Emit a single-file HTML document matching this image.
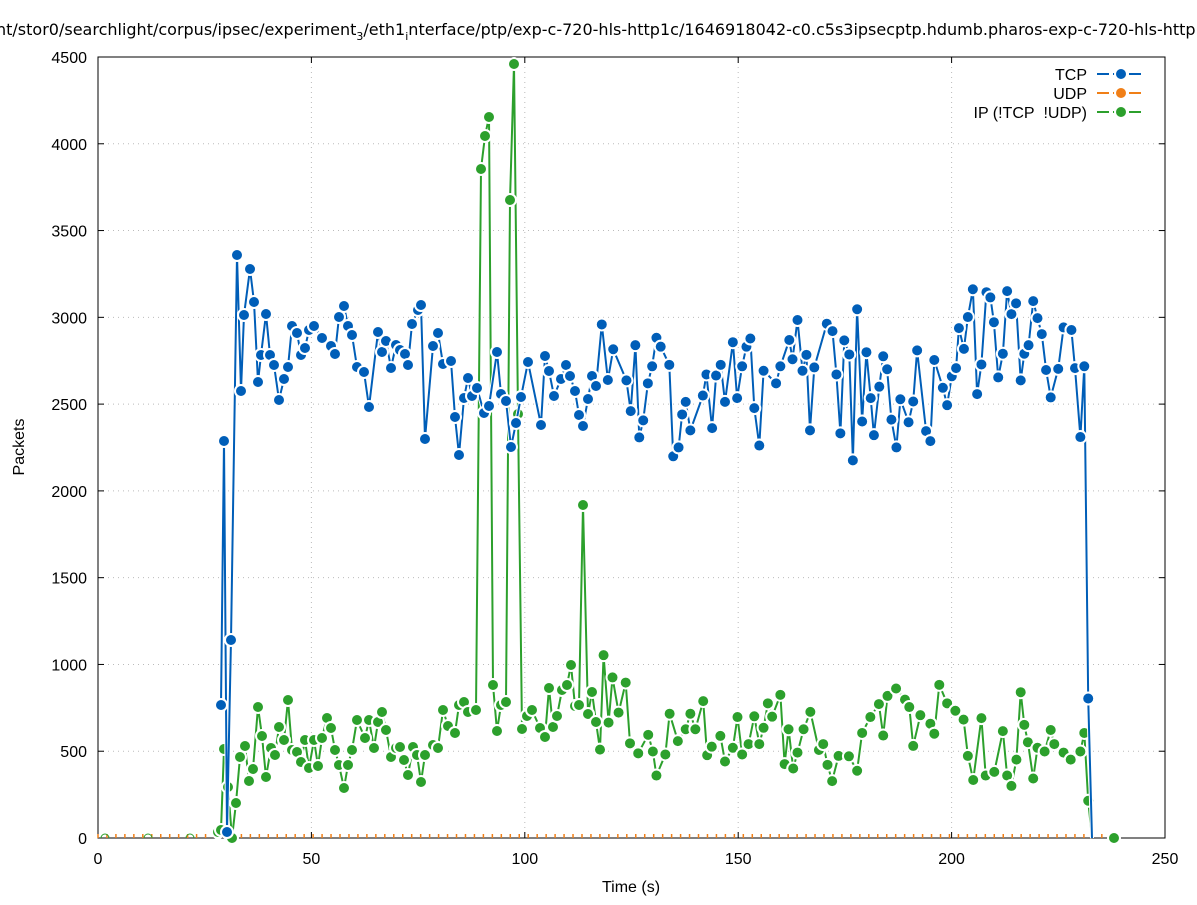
<!DOCTYPE html>
<html><head><meta charset="utf-8"><style>
body{margin:0;background:#fff;width:1197px;height:900px;overflow:hidden}
svg{font-family:"Liberation Sans","DejaVu Sans",sans-serif}
</style></head><body>
<svg id="s" width="1197" height="900" xmlns="http://www.w3.org/2000/svg">
<rect width="1197" height="900" fill="#fff"/>
<g id="grid" stroke="#bbb" stroke-width="1" stroke-dasharray="1,4"></g>
<rect x="98" y="57" width="1067" height="781" fill="none" stroke="#000" stroke-width="1"/>
<g id="ticks" font-size="16" fill="#000"></g>
<text x="-4" y="35" font-size="16" style="font-family:'DejaVu Sans',sans-serif">nt/stor0/searchlight/corpus/ipsec/experiment<tspan font-size="11" dy="5">3</tspan><tspan dy="-5">/eth1</tspan><tspan font-size="11" dy="5">i</tspan><tspan dy="-5">nterface/ptp/exp-c-720-hls-http1c/1646918042-c0.c5s3ipsecptp.hdumb.pharos-exp-c-720-hls-http</tspan></text>
<text x="631" y="892" font-size="16" text-anchor="middle">Time (s)</text>
<text transform="translate(24,447) rotate(-90)" font-size="16" text-anchor="middle">Packets</text>
<g id="data"></g>
<g font-size="16" text-anchor="end">
<text x="1087" y="80">TCP</text><text x="1087" y="99">UDP</text><text x="1087" y="118">IP (!TCP&#160; !UDP)</text>
</g>
<g stroke-width="2">
<line x1="1097" y1="74" x2="1145" y2="74" stroke="#005eb8" stroke-dasharray="12,4"/>
<circle cx="1121" cy="74" r="6" fill="#005eb8" stroke="#fff" stroke-width="2"/>
<line x1="1097" y1="93" x2="1145" y2="93" stroke="#f07f17" stroke-dasharray="12,4"/>
<circle cx="1121" cy="93" r="6" fill="#f07f17" stroke="#fff" stroke-width="2"/>
<line x1="1097" y1="112" x2="1145" y2="112" stroke="#2ca02c" stroke-dasharray="12,4"/>
<circle cx="1121" cy="112" r="6" fill="#2ca02c" stroke="#fff" stroke-width="2"/>
</g>
</svg>
<script>
var NS="http://www.w3.org/2000/svg";
function el(p,t,a,txt){var e=document.createElementNS(NS,t);for(var k in a)e.setAttribute(k,a[k]);if(txt!=null)e.textContent=txt;p.appendChild(e);return e;}
var g=document.getElementById('grid'),tk=document.getElementById('ticks');
for(var i=0;i<=9;i++){var y=838-i*781/9;if(i>0&&i<9)el(g,'line',{x1:98,x2:1165,y1:y,y2:y});
el(tk,'line',{x1:98,x2:104,y1:y,y2:y,stroke:'#000'});el(tk,'line',{x1:1159,x2:1165,y1:y,y2:y,stroke:'#000'});
el(tk,'text',{x:87,y:y+6,'text-anchor':'end'},String(i*500));}
for(var i=0;i<=5;i++){var x=98+i*1067/5;if(i>0&&i<5)el(g,'line',{x1:x,x2:x,y1:57,y2:838});
el(tk,'line',{x1:x,x2:x,y1:838,y2:832,stroke:'#000'});el(tk,'line',{x1:x,x2:x,y1:57,y2:63,stroke:'#000'});
el(tk,'text',{x:x,y:864,'text-anchor':'middle'},String(i*50));}
function z(a){var r=[];for(var i=0;i<a.length;i+=2)r.push(600+a[i]/2.8,270+a[i+1]/2.7);return r;}
var tcpA=[221,705,224,441,227,832,231,640,237,255,241,391,244,315,250,269,254,302,258,382,261,355,266,314,270,355,274,365,279,400,284,379,288,367,292,326,297,333,301,355,305,348,309,330,314,326,322,338,331,346,335,354,339,317,344,306,348,326,352,335,357,367,364,372,369,407,378,332,382,352,386,341,391,368,396,345,400,350,405,354,408,365,412,324,418,310,421,305,425,439,433,346,438,333,443,364,451,361,455,417,459,455,464,398,468,378,472,396,477,388,484,413,489,406,497,352,501,394,506,401,511,447,516,423,521,397,528,362,541,425,545,356,549,371,554,396,561,379,566,365,570,376,575,391,579,415,583,426,588,399,592,376,596,386];
var tcpB=z([5,147,22,297,37,214,74,298,86,381,99,203,110,452,121,406,134,306,146,260,158,183,170,207,194,256,205,503,220,479,230,390,240,356,253,433,288,339,298,282,314,427,325,285,338,256,350,356,372,195,384,346,398,260,410,207,421,185,432,373,446,474,458,272,493,306,505,260,530,189,539,241,553,135,567,272,578,229,588,433,600,263,635,145,651,165,662,282,673,441,684,190,698,228,708,514,720,106,734,409,746,222,758,346,767,446,782,315,793,233,804,268,816,404,830,479,841,349,864,411,877,355,888,217,913,435,925,462,936,243,960,318,972,365,985,287,997,265,1005,157,1019,213,1030,127,1044,52,1056,335,1068,255,1082,60,1093,74,1103,141,1115,290,1128,226,1140,57,1152,119,1165,90,1178,298,1188,226,1200,203,1213,84,1225,130,1237,173,1249,270,1262,344,1283,267,1298,155,1320,162,1330,265,1345,451,1356,260,1367,1157]);
var tcp=tcpA.concat(tcpB);
var ipA=[218,832,221,830,224,749,228,787,232,838,236,803,240,757,245,746,249,781,253,769,258,707,262,736,266,777,271,748,275,755,279,727,284,740,288,700,292,750,297,752,301,762,305,740,309,768,314,740,318,766,322,738,327,718,331,728,335,750,339,765,344,788,348,765,352,750,357,720,365,738,369,720,374,748,378,722,382,712,386,730,391,757,396,748,400,747,404,760,408,775,413,747,417,755,421,782,425,755,433,745,438,748,443,710,448,726,455,733,459,705,464,702,468,712,476,710,481,169,485,136,489,117,493,685,497,731,501,705,506,702,510,200,514,64,518,414,522,729,527,716,532,710,540,728,545,737,549,688,553,727,557,716,562,690,567,685,571,665,575,706,579,705,583,505,588,714,592,692,596,722];
var ipB=z([0,1295,10,1040,24,1222,35,1100,52,1195,72,1114,84,1278,107,1305,135,1255,148,1300,158,1365,183,1308,195,1198,218,1272,240,1240,253,1198,267,1240,289,1164,300,1310,313,1287,337,1258,350,1327,372,1290,385,1207,398,1308,416,1280,432,1205,446,1280,458,1236,470,1170,482,1206,505,1147,517,1334,528,1240,541,1346,553,1303,570,1240,589,1193,613,1296,625,1280,637,1336,650,1380,668,1312,697,1313,720,1352,734,1250,757,1207,781,1172,793,1257,805,1150,829,1130,854,1160,866,1180,877,1285,897,1202,925,1225,936,1252,950,1120,972,1170,995,1190,1018,1214,1030,1312,1045,1377,1068,1210,1080,1365,1104,1355,1128,1245,1140,1365,1152,1393,1166,1322,1178,1140,1188,1228,1198,1275,1213,1373,1225,1290,1245,1300,1262,1242,1272,1280,1298,1303,1318,1322,1345,1300,1356,1250,1367,1433]);
var ip=ipA.concat(ipB);
var d=document.getElementById('data');
for(var t=0;t<=238;t+=2.1){var x=98+t*4.268;el(d,'line',{x1:x,x2:x,y1:834,y2:838,stroke:'#f07f17','stroke-width':1.5});}
function series(pts,col,endPts){
 var p=pts.slice();if(endPts)p=p.concat(endPts);
 var s='';for(var i=0;i<p.length;i+=2)s+=(i?'L':'M')+p[i].toFixed(1)+' '+p[i+1].toFixed(1);
 el(d,'path',{d:s,fill:'none',stroke:'#fff','stroke-width':4});
 el(d,'path',{d:s,fill:'none',stroke:col,'stroke-width':2});
 for(var i=0;i<pts.length;i+=2)el(d,'circle',{cx:pts[i],cy:pts[i+1],r:6,fill:col,stroke:'#fff','stroke-width':2});
}
series(ip,'#2ca02c',[1092,838]);
el(d,'circle',{cx:1114,cy:838,r:6,fill:'#2ca02c',stroke:'#fff','stroke-width':2});
series(tcp,'#005eb8',[1092,838]);
[105,148,190].forEach(function(x){el(d,'path',{d:'M'+(x-4)+' 838 A4 4 0 0 1 '+(x+4)+' 838',fill:'none',stroke:'#2ca02c','stroke-width':1});});
</script>
</body></html>
